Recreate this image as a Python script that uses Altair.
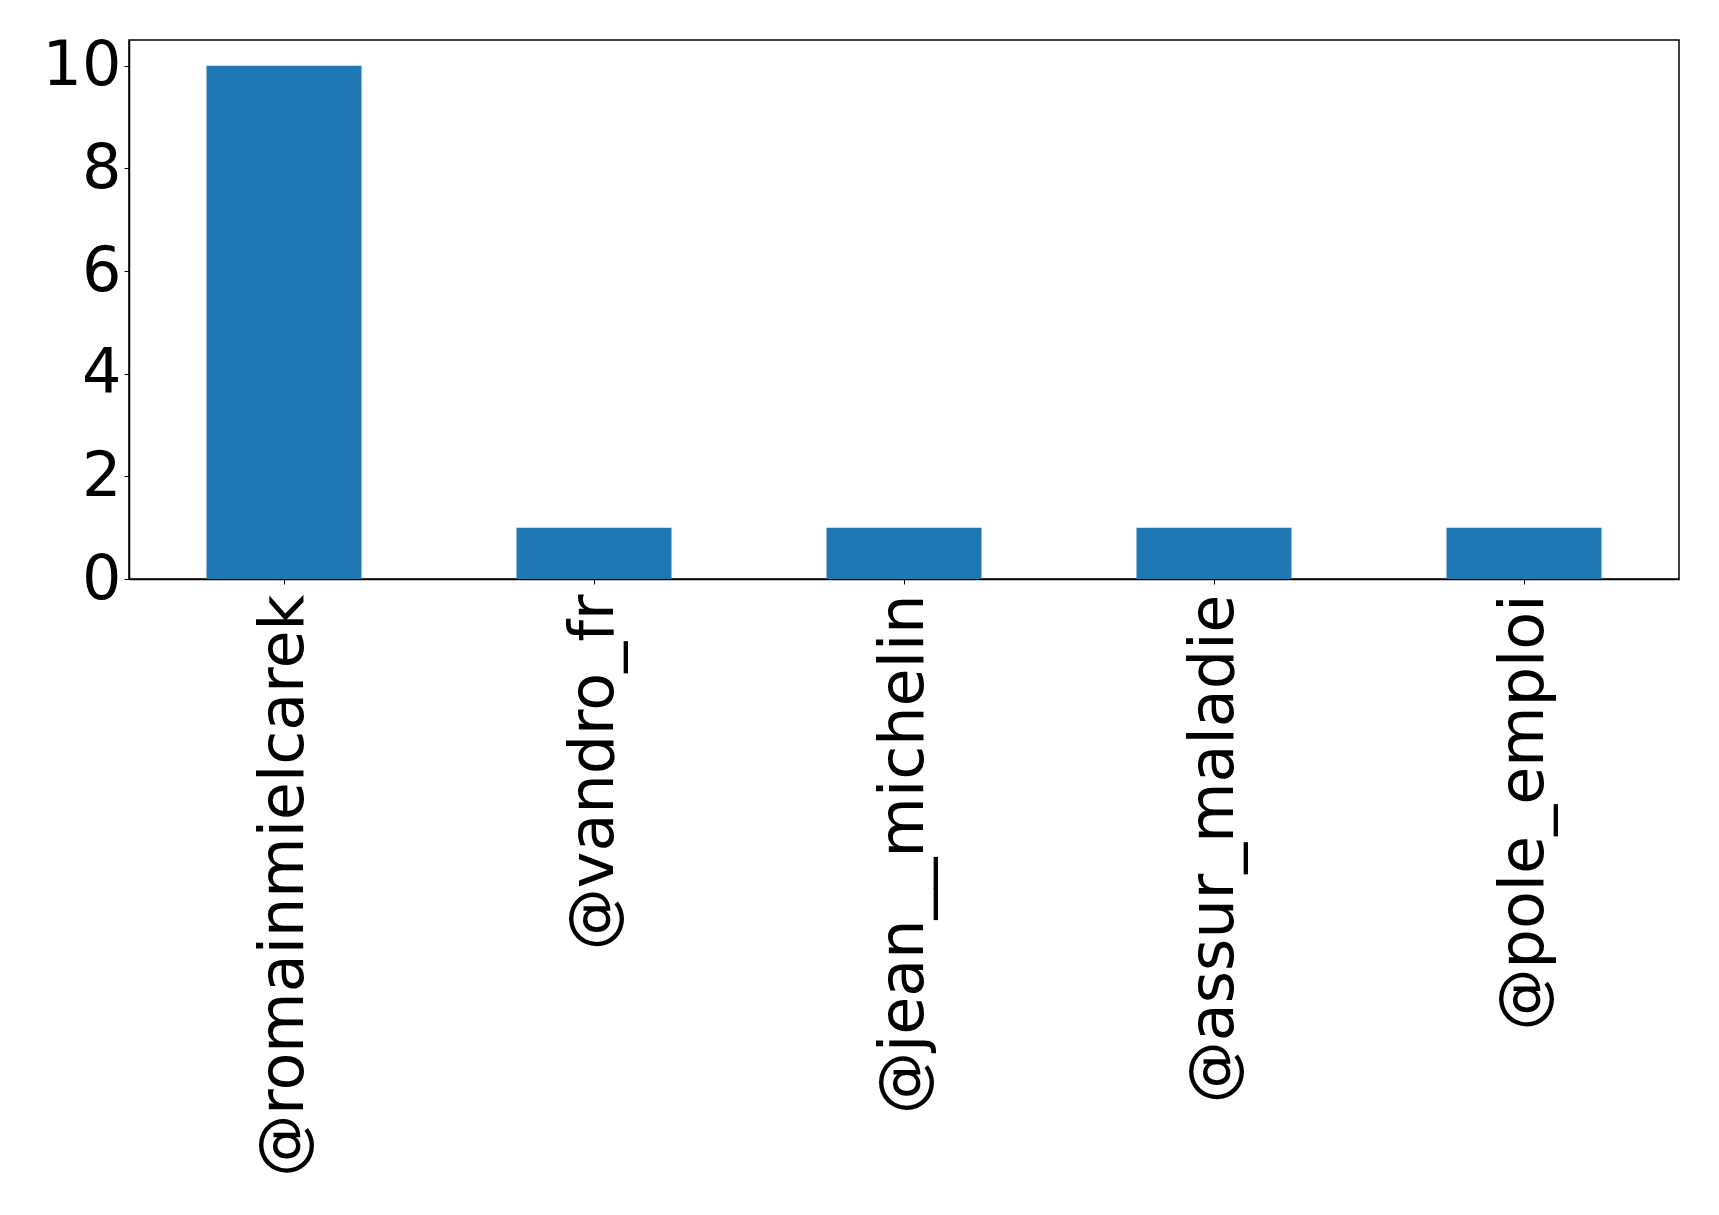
import altair as alt
import pandas as pd

# Mention counts per account
accounts = ["@romainmielcarek", "@vandro_fr", "@jean__michelin", "@assur_maladie", "@pole_emploi"]
counts = [10, 1, 1, 1, 1]
y_ticks = [0, 2, 4, 6, 8, 10]

df = pd.DataFrame({"account": accounts, "count": counts})

FONT = "DejaVu Sans"
SIZE = 62

chart = (
    alt.Chart(df)
    .mark_bar(color="#1f77b4")
    .encode(
        x=alt.X(
            "account:N",
            sort=accounts,
            title=None,
            scale=alt.Scale(paddingInner=0.5, paddingOuter=0.25),
            axis=alt.Axis(
                labelAngle=270,
                labelAlign="right",
                labelBaseline="middle",
                labelFont=FONT,
                labelFontSize=SIZE,
                labelColor="black",
                labelPadding=10,
                labelLimit=0,
                tickSize=5,
                tickColor="black",
                tickWidth=1,
                domainColor="black",
                domainWidth=1.5,
                grid=False,
            ),
        ),
        y=alt.Y(
            "count:Q",
            title=None,
            scale=alt.Scale(domain=[0, 10.5], nice=False, zero=True),
            axis=alt.Axis(
                values=y_ticks,
                labelFont=FONT,
                labelFontSize=SIZE,
                labelColor="black",
                labelPadding=3,
                labelBaseline="middle",
                tickSize=5,
                tickColor="black",
                tickWidth=1,
                domainColor="black",
                domainWidth=1.5,
                grid=False,
            ),
        ),
    )
    .properties(
        width=1550,
        height=539,
        autosize=alt.AutoSizeParams(type="none"),
        padding={"left": 129, "top": 40, "right": 40, "bottom": 636},
        background="white",
    )
    .configure_view(stroke="#000000", strokeWidth=1.5, strokeOpacity=1)
)

chart.save("out.html", embed_options={"renderer": "svg", "actions": False})
